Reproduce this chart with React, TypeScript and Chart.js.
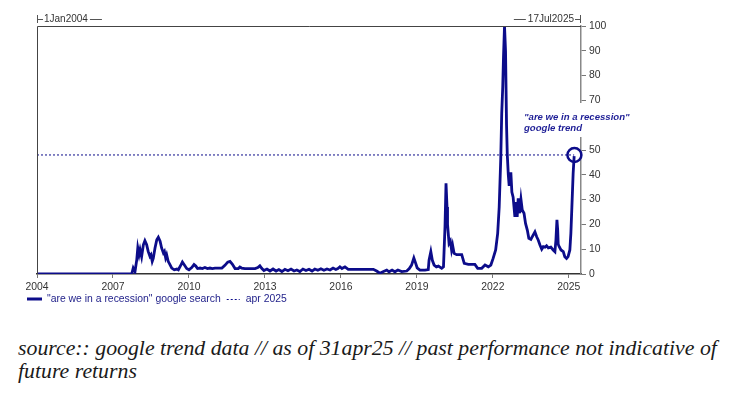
import React, { useEffect, useRef } from 'react';
import { Chart, registerables } from 'chart.js';

Chart.register(...registerables);

// ---- data ----
const trendYears = [
  2004.00, 2007.74, 2007.80, 2007.87, 2007.94, 2007.98, 2008.03, 2008.07, 2008.13, 2008.20,
  2008.26, 2008.33, 2008.39, 2008.46, 2008.50, 2008.55, 2008.59, 2008.66, 2008.73, 2008.79,
  2008.86, 2008.92, 2008.99, 2009.03, 2009.08, 2009.12, 2009.18, 2009.25, 2009.32, 2009.42,
  2009.52, 2009.58, 2009.69, 2009.74, 2009.82, 2009.91, 2010.00, 2010.11, 2010.20, 2010.27,
  2010.34, 2010.44, 2010.53, 2010.63, 2010.73, 2010.83, 2010.92, 2011.03, 2011.15, 2011.30,
  2011.42, 2011.53, 2011.62, 2011.71, 2011.82, 2011.95, 2012.01, 2012.08, 2012.21, 2012.61,
  2012.72, 2012.80, 2012.88, 2012.96, 2013.08, 2013.20, 2013.32, 2013.44, 2013.55, 2013.67,
  2013.79, 2013.91, 2014.03, 2014.15, 2014.26, 2014.38, 2014.50, 2014.62, 2014.74, 2014.86,
  2014.97, 2015.09, 2015.21, 2015.33, 2015.45, 2015.57, 2015.69, 2015.80, 2015.88, 2015.96,
  2016.04, 2016.16, 2016.29, 2016.48, 2016.75, 2017.03, 2017.28, 2017.41, 2017.54, 2017.66,
  2017.81, 2017.90, 2018.02, 2018.13, 2018.25, 2018.40, 2018.60, 2018.70, 2018.79, 2018.88,
  2018.95, 2019.01, 2019.12, 2019.32, 2019.45, 2019.48, 2019.55, 2019.61, 2019.68, 2019.77,
  2019.85, 2019.98, 2020.05, 2020.11, 2020.15, 2020.19, 2020.21, 2020.27, 2020.32, 2020.37,
  2020.41, 2020.47, 2020.57, 2020.77, 2020.87, 2021.03, 2021.29, 2021.40, 2021.56, 2021.69,
  2021.82, 2021.92, 2022.01, 2022.11, 2022.19, 2022.25, 2022.31, 2022.35, 2022.39, 2022.42,
  2022.46, 2022.50, 2022.54, 2022.57, 2022.61, 2022.64, 2022.67, 2022.71, 2022.75, 2022.80,
  2022.87, 2022.91, 2022.96, 2023.00, 2023.06, 2023.11, 2023.16, 2023.23, 2023.29, 2023.36,
  2023.42, 2023.50, 2023.59, 2023.66, 2023.73, 2023.79, 2023.86, 2023.93, 2023.99, 2024.06,
  2024.12, 2024.19, 2024.29, 2024.38, 2024.45, 2024.49, 2024.53, 2024.56, 2024.58, 2024.62,
  2024.69, 2024.78, 2024.84, 2024.91, 2024.97, 2025.04, 2025.08, 2025.12, 2025.17, 2025.21,
];
const trendValues = [
  0, 0, 2.4, 1, 5.8, 10.5, 7.8, 9.8, 7, 11.8,
  13.4, 11.8, 9.1, 7.1, 7.7, 5.1, 6.3, 10.5, 13.8, 14.8,
  13.2, 10.5, 8.5, 9.1, 6.5, 7.7, 5.1, 3.8, 2.4, 1.7,
  2, 1.7, 3.8, 4.8, 3.6, 2.2, 1.7, 2.6, 3.8, 3.2,
  2.2, 2.4, 2.2, 2.6, 2.2, 2.4, 2.2, 2.4, 2.4, 2.4,
  3.5, 4.8, 5.1, 4, 2.2, 2.2, 2.8, 2.4, 2.2, 2.2,
  2.6, 3.3, 2.2, 1.4, 2.0, 1.2, 2.0, 1.2, 1.8, 1.0,
  1.9, 1.3, 2.0, 1.2, 1.6, 1.0, 2.0, 1.4, 1.9, 1.2,
  2.0, 1.5, 2.1, 1.5, 2.0, 1.6, 2.4, 1.8, 2.2, 2.9,
  2.2, 2.9, 1.9, 1.9, 1.9, 1.9, 1.9, 1.2, 0.3, 0.9,
  1.6, 0.9, 1.6, 0.9, 1.6, 1.0, 1.2, 2.2, 3.6, 6.5,
  4.4, 2.5, 1.6, 1.6, 1.8, 5.6, 9, 5.5, 3.6, 2.9,
  3.2, 2.3, 2.9, 19, 36.6, 27, 20, 12.4, 13.3, 9.7,
  11.6, 8.3, 7.8, 7.8, 4.3, 3.9, 3.9, 2.3, 2.3, 3.6,
  2.9, 3.6, 6.3, 9.7, 16.4, 27, 46, 64.8, 75.5, 87.6,
  100, 90, 60, 48, 40, 36, 36.6, 41, 33, 31,
  23, 29, 23, 30.5, 24.5, 30, 25.8, 24.5, 20.4, 17.7,
  14.4, 14, 15.7, 17, 15, 13.7, 11.7, 10, 11, 10.8,
  11.4, 10.5, 10.8, 9.7, 9, 13.7, 21.8, 17.7, 12, 11,
  9.7, 9, 7, 6.3, 7, 9.7, 16.4, 27, 40.6, 47.5,
];
const markerYears = [2004, 2025.21];
const markerValues = [48, 48];
const circleYears = [2025.22];
const circleValues = [48];
const xTickYears = [2004, 2007, 2010, 2013, 2016, 2019, 2022, 2025];
const yTickValues = [0, 10, 20, 30, 40, 50, 60, 70, 80, 90, 100];
const xMin = 2004;
const xMax = 2025.48;
const startLabel = '1Jan2004';
const endLabel = '17Jul2025';
const seriesLabel = '"are we in a recession" google search';
const markerLabel = 'apr 2025';
const annotationLines = ['"are we in a recession"', 'google trend'];
const sourceLines = [
  'source:: google trend data // as of 31apr25 // past performance not indicative of',
  'future returns',
];

const NAVY = '#0c0c8a';
const UI_FONT = "'Liberation Sans', Arial, sans-serif";

const overlayPlugin = {
  id: 'overlay',
  afterDraw(chart: any) {
    const { ctx, chartArea } = chart;
    const { left, right, top, bottom } = chartArea;
    ctx.save();
    // frame top + left
    ctx.strokeStyle = '#444';
    ctx.lineWidth = 1;
    ctx.beginPath();
    ctx.moveTo(left + 0.5, bottom);
    ctx.lineTo(left + 0.5, top + 0.5);
    ctx.lineTo(right, top + 0.5);
    ctx.stroke();

    // top date labels
    ctx.font = `10px ${UI_FONT}`;
    ctx.fillStyle = '#333';
    ctx.textBaseline = 'middle';
    const ly = 19;
    ctx.strokeStyle = '#555';
    ctx.beginPath();
    ctx.moveTo(left + 0.5, ly - 4);
    ctx.lineTo(left + 0.5, ly + 4);
    ctx.moveTo(left, ly + 0.5);
    ctx.lineTo(left + 6, ly + 0.5);
    ctx.stroke();
    ctx.textAlign = 'left';
    ctx.fillText(startLabel, left + 7, ly);
    const sw = ctx.measureText(startLabel).width;
    ctx.beginPath();
    ctx.moveTo(left + 9 + sw, ly + 0.5);
    ctx.lineTo(left + 21 + sw, ly + 0.5);
    ctx.stroke();

    ctx.textAlign = 'right';
    ctx.fillText(endLabel, right - 7, ly);
    const ew = ctx.measureText(endLabel).width;
    ctx.beginPath();
    ctx.moveTo(right - 0.5, ly - 4);
    ctx.lineTo(right - 0.5, ly + 4);
    ctx.moveTo(right, ly + 0.5);
    ctx.lineTo(right - 6, ly + 0.5);
    ctx.moveTo(right - 9 - ew, ly + 0.5);
    ctx.lineTo(right - 21 - ew, ly + 0.5);
    ctx.stroke();

    // legend
    const gy = 299;
    ctx.strokeStyle = NAVY;
    ctx.lineWidth = 3;
    ctx.beginPath();
    ctx.moveTo(27, gy);
    ctx.lineTo(42, gy);
    ctx.stroke();
    ctx.fillStyle = '#1d1d88';
    ctx.textAlign = 'left';
    ctx.font = `10.4px ${UI_FONT}`;
    ctx.fillText(seriesLabel, 47, gy);
    const lw = ctx.measureText(seriesLabel).width;
    ctx.lineWidth = 1;
    ctx.setLineDash([2, 2]);
    ctx.beginPath();
    ctx.moveTo(47 + lw + 6, gy + 0.5);
    ctx.lineTo(47 + lw + 19, gy + 0.5);
    ctx.stroke();
    ctx.setLineDash([]);
    ctx.fillText(markerLabel, 47 + lw + 25, gy);

    // annotation with white backing
    ctx.fillStyle = '#ffffff';
    ctx.fillRect(520, 103, 115, 34);
    ctx.fillStyle = '#1e1e96';
    ctx.font = `italic bold 9.6px ${UI_FONT}`;
    ctx.textAlign = 'left';
    ctx.fillText(annotationLines[0], 524, 117);
    ctx.fillText(annotationLines[1], 524, 128);
    ctx.restore();
  },
};

export default function App() {
  const canvasRef = useRef<HTMLCanvasElement | null>(null);

  useEffect(() => {
    if (!canvasRef.current) return;
    const chart = new Chart(canvasRef.current, {
      type: 'line',
      data: {
        datasets: [
          {
            label: seriesLabel,
            data: trendYears.map((x, i) => ({ x, y: trendValues[i] })),
            borderColor: NAVY,
            borderWidth: 2.8,
            pointRadius: 0,
            tension: 0,
            fill: false,
          },
          {
            label: markerLabel,
            data: markerYears.map((x, i) => ({ x, y: markerValues[i] })),
            borderColor: NAVY,
            borderWidth: 1,
            borderDash: [2, 2],
            pointRadius: 0,
            fill: false,
          },
          {
            label: 'marker',
            data: circleYears.map((x, i) => ({ x, y: circleValues[i] })),
            showLine: false,
            pointRadius: 7,
            pointBorderWidth: 2.5,
            pointBorderColor: NAVY,
            pointBackgroundColor: 'rgba(0,0,0,0)',
            clip: false as any,
          },
        ],
      },
      options: {
        responsive: false,
        animation: false,
        events: [],
        layout: { padding: { left: 37, top: 26, right: 0, bottom: 0 } },
        plugins: { legend: { display: false }, tooltip: { enabled: false } },
        scales: {
          x: {
            type: 'linear',
            min: xMin,
            max: xMax,
            afterBuildTicks: (scale: any) => {
              scale.ticks = xTickYears.map((v) => ({ value: v }));
            },
            afterFit: (scale: any) => {
              scale.height = 46;
            },
            ticks: {
              autoSkip: false,
              maxRotation: 0,
              padding: 3,
              color: '#333',
              font: { family: UI_FONT, size: 10.4 },
              callback: (v: any) => String(v),
            },
            grid: {
              display: true,
              drawOnChartArea: false,
              drawTicks: true,
              tickLength: 4,
              color: '#777',
            },
            border: { display: true, color: '#333', width: 1.5 },
          },
          y: {
            position: 'right',
            min: 0,
            max: 100,
            afterBuildTicks: (scale: any) => {
              scale.ticks = yTickValues.map((v) => ({ value: v }));
            },
            afterFit: (scale: any) => {
              scale.width = 154;
            },
            ticks: {
              padding: 3,
              color: '#333',
              font: { family: UI_FONT, size: 10.4 },
              callback: (v: any) => String(v),
            },
            grid: {
              display: true,
              drawOnChartArea: false,
              drawTicks: true,
              tickLength: 5,
              color: '#777',
            },
            border: { display: true, color: '#888', width: 1.5 },
          },
        },
      },
      plugins: [overlayPlugin],
    });
    return () => chart.destroy();
  }, []);

  return (
    <div style={{ position: 'fixed', left: 0, top: 0, width: 735, height: 397, background: '#fff' }}>
      <canvas ref={canvasRef} width={735} height={320} style={{ display: 'block' }} />
      <div
        style={{
          position: 'absolute',
          left: 18,
          top: 337,
          fontFamily: "'Liberation Serif', 'Times New Roman', serif",
          fontStyle: 'italic',
          fontSize: 21.8,
          lineHeight: '23px',
          color: '#1a1a1a',
          whiteSpace: 'nowrap',
        }}
      >
        {sourceLines.map((s, i) => (
          <div key={i}>{s}</div>
        ))}
      </div>
    </div>
  );
}
